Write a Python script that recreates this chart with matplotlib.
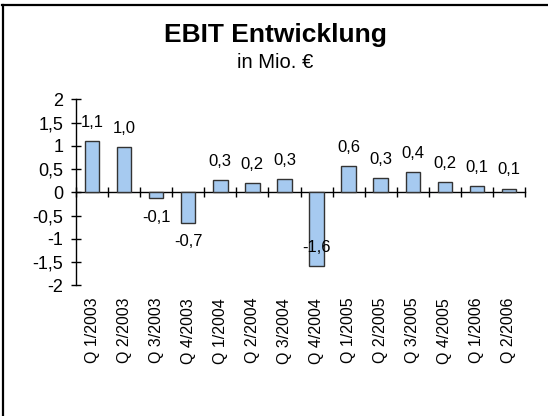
import matplotlib
matplotlib.use("Agg")
import matplotlib.pyplot as plt
from matplotlib.lines import Line2D
import numpy as np

plt.rcParams['font.family'] = ['Liberation Sans', 'DejaVu Sans']

# --- data ---
quarters = ['Q 1/2003', 'Q 2/2003', 'Q 3/2003', 'Q 4/2003',
            'Q 1/2004', 'Q 2/2004', 'Q 3/2004', 'Q 4/2004',
            'Q 1/2005', 'Q 2/2005', 'Q 3/2005', 'Q 4/2005',
            'Q 1/2006', 'Q 2/2006']
ebit = [1.10, 0.97, -0.13, -0.65, 0.26, 0.20, 0.28, -1.59,
        0.56, 0.30, 0.43, 0.22, 0.13, 0.08]
y_ticks = [-2, -1.5, -1, -0.5, 0, 0.5, 1, 1.5, 2]


def de_num(v, digits=None):
    # german decimal comma
    if digits is None:
        s = f"{v:g}"
    else:
        s = f"{v:.{digits}f}"
    return s.replace('.', ',')


fig = plt.figure(figsize=(5.48, 4.16), dpi=100)
ax = fig.add_axes([76 / 548, 1 - 285.3 / 416, (525 - 76) / 548, (285.3 - 99.3) / 416])

x = np.arange(len(quarters))
ax.bar(x, ebit, width=0.45, color='#a6caf0', edgecolor='#333333', linewidth=1.0, zorder=3)

ax.set_xlim(-0.5, len(quarters) - 0.5)
ax.set_ylim(-2, 2)

# spines: only y axis and zero line
for side in ['top', 'right']:
    ax.spines[side].set_visible(False)
ax.spines['bottom'].set_position(('data', 0))
ax.spines['left'].set_linewidth(1.0)
ax.spines['bottom'].set_linewidth(1.0)

ax.set_yticks(y_ticks)
ax.set_yticklabels([de_num(v) for v in y_ticks], fontsize=13)
ax.tick_params(axis='y', direction='inout', length=7.5, width=1.0, pad=5.5)

# x ticks between categories on the zero line
ax.set_xticks(np.arange(len(quarters) + 1) - 0.5)
ax.tick_params(axis='x', direction='inout', length=7.5, width=1.0, labelbottom=False)

# category labels at bottom of plot area
sec = ax.secondary_xaxis(0)
sec.set_xticks(x)
sec.set_xticklabels(quarters, rotation=90, fontsize=11.5)
sec.tick_params(length=0, pad=9)
sec.spines['bottom'].set_visible(False)

# data labels
for xi, v in zip(x, ebit):
    if v >= 0:
        ty = v + 0.4
    else:
        ty = v - 0.41
        if ty < -1.8:
            ty = v + 0.41
    ax.text(xi, ty, de_num(v, 1), ha='center', va='center', fontsize=12, zorder=4)

fig.text(0.502, 1 - 42 / 416, 'EBIT Entwicklung', ha='center', va='baseline',
         fontsize=19, fontweight='bold')
fig.text(0.502, 1 - 68 / 416, 'in Mio. €', ha='center', va='baseline', fontsize=14.5)

# outer frame (only top and left visible)
fig.add_artist(Line2D([2 / 548, 1], [1 - 5 / 416, 1 - 5 / 416], transform=fig.transFigure,
                      color='black', linewidth=1.6))
fig.add_artist(Line2D([3 / 548, 3 / 548], [0, 1 - 5 / 416], transform=fig.transFigure,
                      color='black', linewidth=1.6))

fig.savefig('out.png', dpi=100)
